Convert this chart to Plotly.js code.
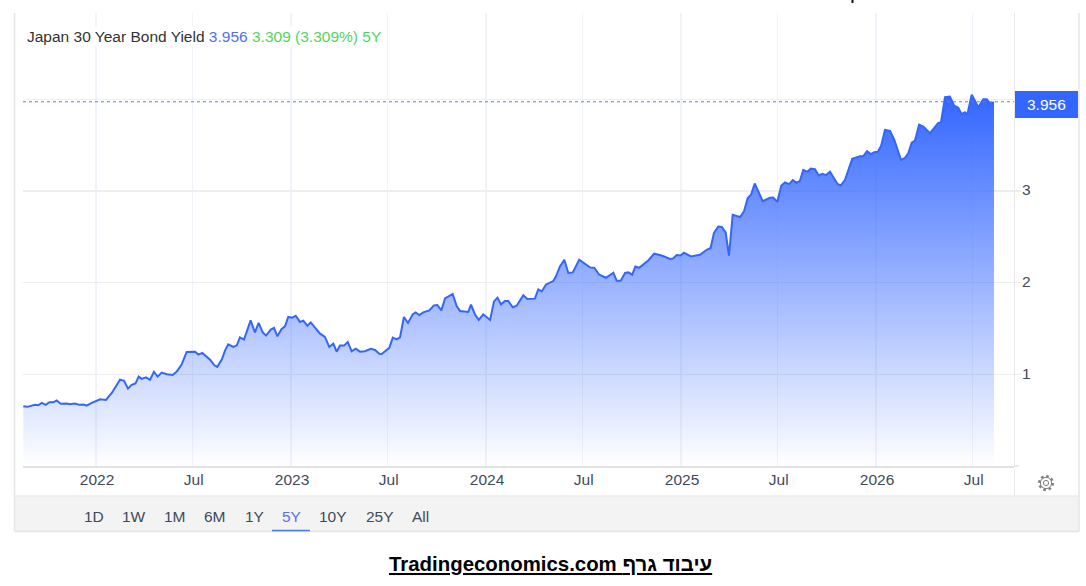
<!DOCTYPE html>
<html>
<head>
<meta charset="utf-8">
<script src="https://cdn.plot.ly/plotly-3.0.1.min.js"></script>
<style>
html,body{margin:0;padding:0;background:#fff;overflow:hidden}
#chart{width:1086px;height:586px;position:relative}
#gear{position:absolute;left:1037px;top:474px;width:18px;height:18px;z-index:5}
</style>
</head>
<body>
<div id="chart"></div>
<svg id="gear" viewBox="0 0 18 18"><circle cx="9" cy="9" r="2.6" fill="none" stroke="#808080" stroke-width="1"/><circle cx="9" cy="9" r="5.6" fill="none" stroke="#808080" stroke-width="1"/><circle cx="9" cy="9" r="6.8" fill="none" stroke="#808080" stroke-width="2.4" stroke-dasharray="2.6 2.74"/></svg>
<script>
// Time as decimal years
const years = [2021.627,2021.648,2021.687,2021.704,2021.722,2021.742,2021.761,2021.781,2021.798,2021.819,2021.850,2021.867,2021.892,2021.914,2021.935,2021.952,2021.978,
2022.021,2022.051,2022.081,2022.123,2022.144,2022.164,2022.183,2022.202,2022.219,2022.234,2022.256,2022.277,2022.297,2022.316,2022.337,2022.363,2022.393,2022.414,2022.439,2022.465,2022.508,2022.525,2022.545,2022.585,2022.607,2022.622,2022.645,2022.662,2022.678,2022.704,2022.722,2022.738,2022.759,2022.793,2022.815,2022.834,2022.855,2022.872,2022.896,2022.913,2022.930,2022.952,2022.969,2022.986,
2023.007,2023.024,2023.046,2023.063,2023.084,2023.101,2023.132,2023.149,2023.174,2023.196,2023.217,2023.234,2023.251,2023.272,2023.291,2023.311,2023.332,2023.354,2023.379,2023.409,2023.431,2023.453,2023.465,2023.504,2023.522,2023.542,2023.559,2023.579,2023.600,2023.624,2023.639,2023.658,2023.678,2023.709,2023.733,2023.750,2023.771,2023.790,2023.829,2023.850,2023.867,2023.909,2023.923,2023.944,2023.963,2023.986,
2024.021,2024.041,2024.059,2024.077,2024.097,2024.114,2024.137,2024.157,2024.191,2024.212,2024.251,2024.268,2024.286,2024.308,2024.345,2024.359,2024.379,2024.402,2024.422,2024.445,2024.478,2024.533,2024.555,2024.581,2024.615,2024.653,2024.670,2024.691,2024.713,2024.730,2024.750,2024.766,2024.785,2024.832,2024.862,2024.901,2024.944,2024.960,2024.978,2024.998,
2025.015,2025.051,2025.097,2025.132,2025.152,2025.169,2025.191,2025.209,2025.229,2025.246,2025.265,2025.303,2025.323,2025.342,2025.359,2025.378,2025.419,2025.456,2025.473,2025.494,2025.514,2025.533,2025.555,2025.573,2025.593,2025.610,2025.627,2025.648,2025.665,2025.687,2025.706,2025.725,2025.744,2025.764,2025.802,2025.819,2025.841,2025.878,2025.918,2025.935,2025.954,2025.973,2025.991,
2026.009,2026.026,2026.046,2026.072,2026.094,2026.128,2026.149,2026.166,2026.183,2026.200,2026.221,2026.243,2026.277,2026.319,2026.333,2026.354,2026.379,2026.401,2026.422,2026.439,2026.456,2026.468,2026.491,2026.525,2026.550,2026.568,2026.585,2026.605];
const yields = [0.651,0.645,0.667,0.662,0.688,0.667,0.695,0.695,0.714,0.678,0.681,0.673,0.681,0.667,0.670,0.659,0.688,
0.728,0.721,0.797,0.942,0.928,0.844,0.885,0.899,0.975,0.950,0.967,0.939,1.026,0.975,1.019,1.000,0.993,1.029,1.106,1.244,1.247,1.215,1.233,1.160,1.098,1.081,1.160,1.261,1.327,1.298,1.316,1.403,1.378,1.588,1.458,1.560,1.458,1.422,1.487,1.505,1.414,1.495,1.523,1.625,
1.618,1.639,1.571,1.585,1.530,1.566,1.479,1.443,1.407,1.298,1.334,1.247,1.313,1.313,1.353,1.251,1.280,1.247,1.251,1.277,1.266,1.225,1.222,1.288,1.400,1.381,1.403,1.625,1.560,1.654,1.675,1.647,1.675,1.697,1.752,1.756,1.697,1.828,1.876,1.741,1.691,1.680,1.759,1.650,1.593,1.654,
1.593,1.795,1.836,1.763,1.800,1.800,1.730,1.748,1.861,1.821,1.825,1.926,1.904,1.980,2.017,2.068,2.176,2.249,2.105,2.111,2.249,2.166,2.162,2.086,2.053,2.108,2.021,2.021,2.105,2.111,2.086,2.176,2.162,2.242,2.315,2.296,2.257,2.264,2.301,2.296,
2.326,2.285,2.304,2.358,2.377,2.541,2.612,2.606,2.547,2.293,2.740,2.715,2.776,2.922,2.958,3.081,2.889,2.925,2.928,2.881,3.056,3.092,3.074,3.118,3.088,3.110,3.230,3.208,3.244,3.237,3.168,3.186,3.172,3.208,3.077,3.059,3.121,3.350,3.379,3.379,3.434,3.401,3.423,
3.426,3.491,3.666,3.655,3.557,3.339,3.361,3.412,3.527,3.549,3.723,3.702,3.630,3.742,3.745,4.022,4.028,3.930,3.908,3.837,3.858,3.832,4.050,3.913,4.000,4.000,3.952,3.968];
const xTickVals = [2022,2022.496,2023,2023.496,2024,2024.496,2025,2025.496,2026,2026.496];
const xTickText = ['2022','Jul','2023','Jul','2024','Jul','2025','Jul','2026','Jul'];
const yTickVals = [1,2,3,4];
const yTickText = ['1','2','3',''];
const lastValue = '3.956';
const priceLineLevel = 3.972;
const rangeLabels = ['1D','1W','1M','6M','1Y','5Y','10Y','25Y','All'];
const rangeCenters = [93.5,134,175,214.5,254,291,333,379.5,420];

const W=1086,H=586,L=23,R=1014,T=13,B=466.5;
const px=x=>(x-L)/(R-L), py=y=>(B-y)/(B-T);
const FONT='"Liberation Sans", Arial, sans-serif', BLUE='#3366ff', TXT='#3f4a5a';

const trace={x:years,y:yields,type:'scatter',mode:'lines',
  line:{color:BLUE,width:2,shape:'linear'},
  fill:'tozeroy',
  fillgradient:{type:'vertical',start:0,stop:4.05,
    colorscale:[[0,'rgba(51,102,255,0)'],[1,'rgba(51,102,255,1)']]},
  hoverinfo:'skip',showlegend:false};

const rect=(x0,y0,x1,y1,fill,line,layer)=>({type:'rect',xref:'paper',yref:'paper',x0:px(x0),x1:px(x1),y0:py(y0),y1:py(y1),fillcolor:fill,line:{width:line?1:0,color:line||fill},layer:layer||'above'});
const seg=(x0,y0,x1,y1,c,w)=>({type:'line',xref:'paper',yref:'paper',x0:px(x0),x1:px(x1),y0:py(y0),y1:py(y1),line:{color:c,width:w||1},layer:'above'});

const shapes=[
  rect(15,496.5,1079,532,'#f3f3f3'),
  seg(14.5,13,14.5,532,'#e6e6e6',1.5),
  seg(14.5,532,1079,532,'#e4e4e4',1.5),
  seg(1079,13,1079,532,'#e6e6e6',1.5),
  seg(15,496.5,1079,496.5,'#e6e6e6',1),
  seg(1014.5,13,1014.5,466,'#e8e8e8',1),
  seg(1014.5,470,1014.5,496,'#e8e8e8',1),
  seg(1014,466.5,1019,466.5,'#e3e3e3',1.5),
  seg(272,531,310,531,'#4d78f5',1.5),
  seg(852.5,0,852.5,3,'#111',2),
  {type:'line',xref:'paper',yref:'y',x0:0,x1:1,y0:priceLineLevel,y1:priceLineLevel,line:{color:'#4f7fff',width:1,dash:'dot'},layer:'above'},
  rect(1015,91,1078,118,BLUE)
];

const ann=(x,y,text,opt)=>Object.assign({xref:'paper',yref:'paper',x:px(x),y:py(y),text:text,showarrow:false,xanchor:'center',yanchor:'middle',font:{family:FONT,size:14,color:TXT}},opt||{});
const annotations=[
  ann(24.5,37,'<span style="color:#333">Japan 30 Year Bond Yield</span> <span style="color:#4f6dff">'+lastValue+'</span> <span style="color:#4fd65f">3.309 (3.309%) 5Y</span>',{xanchor:'left',bgcolor:'#ffffff',borderpad:1,font:{family:FONT,size:15.5,color:'#333'}}),
  ann(1046.5,104.5,lastValue,{font:{family:FONT,size:15.5,color:'#ffffff'}}),
  ann(550,565,'<b><u>Tradingeconomics.com עיבוד גרף</u></b>',{font:{family:FONT,size:20.4,color:'#000000'}})
];
rangeLabels.forEach((t,i)=>annotations.push(ann(rangeCenters[i],517.5,t,{font:{family:FONT,size:15.5,color:t==='5Y'?'#5a6ff0':TXT}})));

const layout={width:W,height:H,paper_bgcolor:'#ffffff',plot_bgcolor:'#ffffff',
  margin:{l:L,r:W-R,t:T,b:H-B,pad:0},
  font:{family:FONT,size:14,color:TXT},
  xaxis:{type:'linear',range:[2021.6256,2026.7077],tickmode:'array',tickvals:xTickVals,ticktext:xTickText,
    showgrid:true,gridcolor:'#f0f4fa',gridwidth:1.2,zeroline:false,showline:true,linecolor:'#e3e3e3',linewidth:1.5,
    ticks:'',tickfont:{family:FONT,size:15.5,color:TXT},ticklabelstandoff:-1,ticklabelshift:1},
  yaxis:{side:'right',range:[0,(B-T)/91.8],tickmode:'array',tickvals:yTickVals,ticktext:yTickText,
    showgrid:true,gridcolor:'#eeeeee',gridwidth:1.2,zeroline:false,showline:false,
    ticks:'outside',ticklen:6,tickcolor:'#eeeeee',tickwidth:1.2,tickfont:{family:FONT,size:15.5,color:TXT},ticklabelstandoff:-2,ticklabelshift:-1},
  shapes:shapes,annotations:annotations,hovermode:false};
Plotly.newPlot('chart',[trace],layout,{displayModeBar:false,staticPlot:true,responsive:false});
</script>
</body>
</html>
